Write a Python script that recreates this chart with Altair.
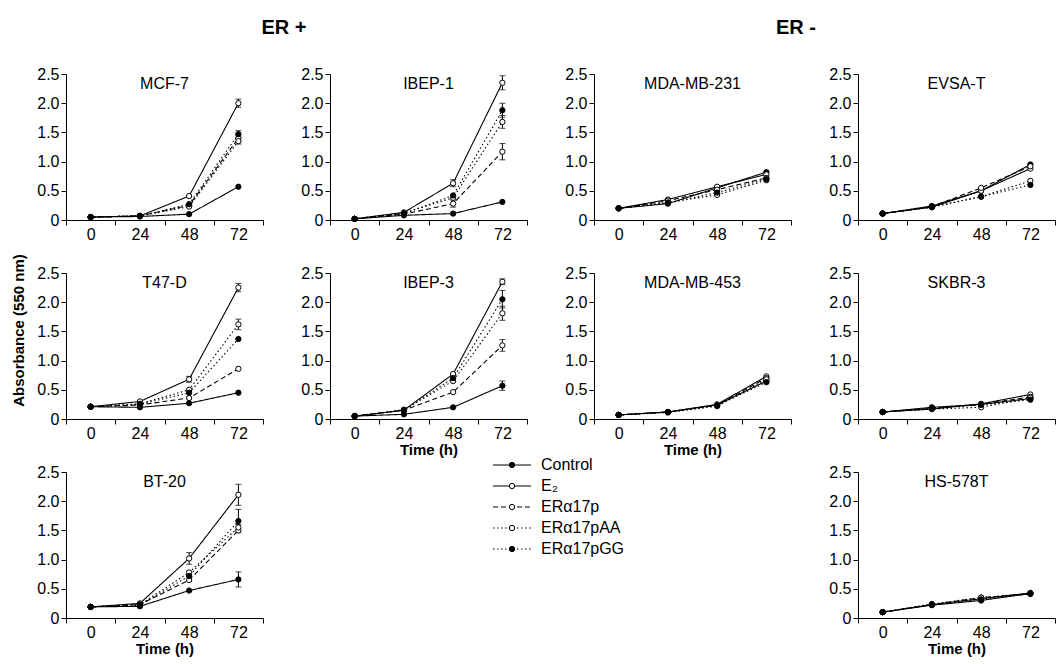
import altair as alt
import pandas as pd

FONT = "Liberation Sans"

times = ["0", "24", "48", "72"]
series = ["Control", "E₂", "ERα17p", "ERα17pAA", "ERα17pGG"]
groups = ["ER +", "ER -"]

MCF7 = {"Control": [0.05, 0.06, 0.10, 0.57], "E₂": [0.05, 0.07, 0.41, 2.00],
        "ERα17p": [0.05, 0.07, 0.25, 1.40], "ERα17pAA": [0.05, 0.07, 0.23, 1.35],
        "ERα17pGG": [0.05, 0.07, 0.27, 1.47]}
IBEP1 = {"Control": [0.02, 0.08, 0.11, 0.31], "E₂": [0.02, 0.13, 0.63, 2.35],
         "ERα17p": [0.02, 0.10, 0.28, 1.17], "ERα17pAA": [0.02, 0.12, 0.38, 1.68],
         "ERα17pGG": [0.02, 0.11, 0.42, 1.88]}
T47D = {"Control": [0.21, 0.20, 0.27, 0.45], "E₂": [0.21, 0.30, 0.68, 2.25],
        "ERα17p": [0.21, 0.24, 0.36, 0.86], "ERα17pAA": [0.21, 0.26, 0.50, 1.62],
        "ERα17pGG": [0.21, 0.25, 0.45, 1.37]}
IBEP3 = {"Control": [0.05, 0.08, 0.20, 0.57], "E₂": [0.05, 0.15, 0.77, 2.35],
         "ERα17p": [0.05, 0.15, 0.46, 1.26], "ERα17pAA": [0.05, 0.16, 0.65, 1.81],
         "ERα17pGG": [0.05, 0.15, 0.70, 2.05]}
BT20 = {"Control": [0.19, 0.20, 0.47, 0.66], "E₂": [0.19, 0.25, 1.02, 2.11],
        "ERα17p": [0.19, 0.23, 0.65, 1.50], "ERα17pAA": [0.19, 0.23, 0.78, 1.55],
        "ERα17pGG": [0.19, 0.22, 0.72, 1.66]}
MDA231 = {"Control": [0.20, 0.28, 0.55, 0.82], "E₂": [0.20, 0.35, 0.57, 0.78],
          "ERα17p": [0.20, 0.33, 0.52, 0.72], "ERα17pAA": [0.20, 0.30, 0.43, 0.68],
          "ERα17pGG": [0.20, 0.29, 0.47, 0.70]}
EVSAT = {"Control": [0.11, 0.24, 0.50, 0.95], "E₂": [0.11, 0.22, 0.50, 0.88],
         "ERα17p": [0.11, 0.23, 0.55, 0.92], "ERα17pAA": [0.11, 0.22, 0.40, 0.67],
         "ERα17pGG": [0.11, 0.22, 0.40, 0.60]}
MDA453 = {"Control": [0.07, 0.12, 0.24, 0.65], "E₂": [0.07, 0.12, 0.25, 0.73],
          "ERα17p": [0.07, 0.12, 0.24, 0.70], "ERα17pAA": [0.07, 0.11, 0.22, 0.68],
          "ERα17pGG": [0.07, 0.12, 0.23, 0.63]}
SKBR3 = {"Control": [0.12, 0.20, 0.25, 0.35], "E₂": [0.12, 0.17, 0.26, 0.42],
         "ERα17p": [0.12, 0.18, 0.25, 0.38], "ERα17pAA": [0.12, 0.17, 0.20, 0.36],
         "ERα17pGG": [0.12, 0.19, 0.24, 0.33]}
HS578T = {"Control": [0.10, 0.22, 0.30, 0.42], "E₂": [0.10, 0.23, 0.33, 0.43],
          "ERα17p": [0.10, 0.23, 0.35, 0.41], "ERα17pAA": [0.10, 0.24, 0.35, 0.42],
          "ERα17pGG": [0.10, 0.23, 0.32, 0.42]}

cells = {"MCF-7": MCF7, "IBEP-1": IBEP1, "T47-D": T47D, "IBEP-3": IBEP3,
         "BT-20": BT20, "MDA-MB-231": MDA231, "EVSA-T": EVSAT,
         "MDA-MB-453": MDA453, "SKBR-3": SKBR3, "HS-578T": HS578T}

# (cell line, series, time, error)
errors = [
    ("MCF-7", "E₂", "72", 0.07), ("MCF-7", "ERα17pGG", "72", 0.06),
    ("MCF-7", "ERα17p", "72", 0.06), ("MCF-7", "ERα17pAA", "72", 0.05),
    ("IBEP-1", "E₂", "72", 0.12), ("IBEP-1", "E₂", "48", 0.06),
    ("IBEP-1", "ERα17pGG", "72", 0.12), ("IBEP-1", "ERα17pAA", "72", 0.11),
    ("IBEP-1", "ERα17p", "72", 0.14), ("IBEP-1", "ERα17p", "48", 0.06),
    ("T47-D", "E₂", "72", 0.07), ("T47-D", "ERα17pAA", "72", 0.09),
    ("T47-D", "E₂", "48", 0.05),
    ("IBEP-3", "E₂", "72", 0.05), ("IBEP-3", "ERα17pGG", "72", 0.15),
    ("IBEP-3", "ERα17pAA", "72", 0.12), ("IBEP-3", "ERα17p", "72", 0.10),
    ("IBEP-3", "Control", "72", 0.08),
    ("BT-20", "E₂", "72", 0.18), ("BT-20", "ERα17pGG", "72", 0.20),
    ("BT-20", "Control", "72", 0.13), ("BT-20", "E₂", "48", 0.10),
    ("BT-20", "ERα17pGG", "48", 0.07), ("BT-20", "ERα17pAA", "72", 0.05),
]

rows = []
for cell, d in cells.items():
    for s in series:
        for t, v in zip(times, d[s]):
            rows.append({"cell": cell, "s": s, "t": t, "v": v})
df = pd.DataFrame(rows)

erows = []
for cell, s, t, e in errors:
    v = cells[cell][s][times.index(t)]
    erows.append({"cell": cell, "s": s, "t": t, "lo": v - e, "hi": v + e})
edf = pd.DataFrame(erows)

W, H = 197, 146
dashes = [[1, 0], [1, 0], [5, 3], [1.5, 2.5], [1.5, 2.5]]
fills = ["black", "white", "white", "white", "black"]

dash_enc = alt.StrokeDash("s:N", scale=alt.Scale(domain=series, range=dashes), legend=None)
fill_enc = alt.Fill("s:N", scale=alt.Scale(domain=series, range=fills), legend=None)


def xenc(xtitle):
    return alt.X("t:O", sort=times,
                 scale=alt.Scale(type="band", domain=times, paddingInner=0, paddingOuter=0),
                 bandPosition=0.5,
                 axis=alt.Axis(title="Time (h)" if xtitle else None, tickBand="extent",
                               labelAngle=0, labelFontSize=16, labelFont=FONT,
                               labelColor="black", tickColor="black", domainColor="black",
                               tickSize=5, labelPadding=1, titleFont=FONT, titleFontSize=15,
                               titleFontWeight="bold", titleColor="black", titlePadding=1,
                               grid=False))


def yenc(field, ytitle):
    extra = {"titleY": 57} if ytitle else {}
    return alt.Y(field, scale=alt.Scale(domain=[0, 2.5], nice=False),
                 axis=alt.Axis(values=[0, 0.5, 1, 1.5, 2, 2.5],
                               labelExpr="datum.value == 0 ? '0' : format(datum.value, '.1f')",
                               title="Absorbance (550 nm)" if ytitle else None,
                               labelFontSize=16, labelFont=FONT, labelColor="black",
                               tickColor="black", domainColor="black", tickSize=5,
                               labelPadding=2, titleFont=FONT, titleFontSize=15,
                               titleFontWeight="bold", titleColor="black", titlePadding=10,
                               grid=False, **extra))


def label_layer(text, xpos, ypos, size, weight):
    return alt.Chart(pd.DataFrame({"g": [text]})).mark_text(
        fontSize=size, font=FONT, fontWeight=weight, color="black", align="center",
        baseline="middle").encode(x=alt.value(xpos), y=alt.value(ypos), text="g:N")


def panel(name, xtitle=False, ytitle=False, group=None):
    d = df[df.cell == name]
    e = edf[edf.cell == name]
    x = xenc(xtitle)
    lines = alt.Chart(d).mark_line(color="black", strokeWidth=1.1).encode(
        x=x, y=yenc("v:Q", ytitle), strokeDash=dash_enc, detail="s:N")
    errs = alt.Chart(e).mark_rule(color="black", strokeWidth=1).encode(
        x=x, y=yenc("lo:Q", ytitle), y2="hi:Q")
    cap_hi = alt.Chart(e).mark_tick(orient="horizontal", size=6, thickness=1, color="black").encode(
        x=x, y=yenc("hi:Q", ytitle))
    cap_lo = alt.Chart(e).mark_tick(orient="horizontal", size=6, thickness=1, color="black").encode(
        x=x, y=yenc("lo:Q", ytitle))
    pts = alt.Chart(d).mark_point(shape="circle", size=28, filled=True, stroke="black",
                                  strokeWidth=1, opacity=1).encode(
        x=x, y=yenc("v:Q", ytitle), fill=fill_enc)
    layers = [lines, errs, cap_hi, cap_lo, pts, label_layer(name, W / 2, 10, 16, "normal")]
    if group is not None:
        layers.append(label_layer(group[0], group[1], -46, 20, "bold"))
    return alt.layer(*layers).properties(width=W, height=H)


legend_df = pd.DataFrame({"s": series})
ly = alt.Y("s:N", sort=series, scale=alt.Scale(type="point", domain=series, range=[-7, 77], padding=0),
           axis=None)
leg_line = alt.Chart(legend_df).mark_rule(color="black", strokeWidth=1.1).encode(
    x=alt.value(163), x2=alt.value(201), y=ly, strokeDash=dash_enc)
leg_pts = alt.Chart(legend_df).mark_point(shape="circle", size=28, filled=True, stroke="black",
                                          strokeWidth=1, opacity=1).encode(
    x=alt.value(182), y=ly, fill=fill_enc)
leg_txt = alt.Chart(legend_df).mark_text(align="left", baseline="middle", fontSize=16, font=FONT,
                                         color="black").encode(
    x=alt.value(211), y=ly, text="s:N")
legend_panel = alt.layer(leg_line, leg_pts, leg_txt).properties(width=W, height=H)

empty_df = pd.DataFrame({"a": [0]})
empty_panel = alt.Chart(empty_df).mark_point(opacity=0).encode(
    x=alt.X("a:Q", axis=None), y=alt.Y("a:Q", axis=None)).properties(width=W, height=H)

panels = [
    panel("MCF-7", group=(groups[0], 218)),
    panel("IBEP-1"),
    panel("MDA-MB-231", group=(groups[1], 202)),
    panel("EVSA-T"),
    panel("T47-D", ytitle=True),
    panel("IBEP-3", xtitle=True),
    panel("MDA-MB-453", xtitle=True),
    panel("SKBR-3"),
    panel("BT-20", xtitle=True),
    legend_panel,
    empty_panel,
    panel("HS-578T", xtitle=True),
]

chart = alt.concat(*panels, columns=4, spacing={"row": 53, "column": 67}, bounds="flush").properties(
    padding={"left": 3, "top": 10, "right": 0, "bottom": 5}, background="white"
).configure_view(strokeWidth=0, stroke="transparent")

chart.save("out.html", embed_options={"renderer": "svg", "actions": False})
